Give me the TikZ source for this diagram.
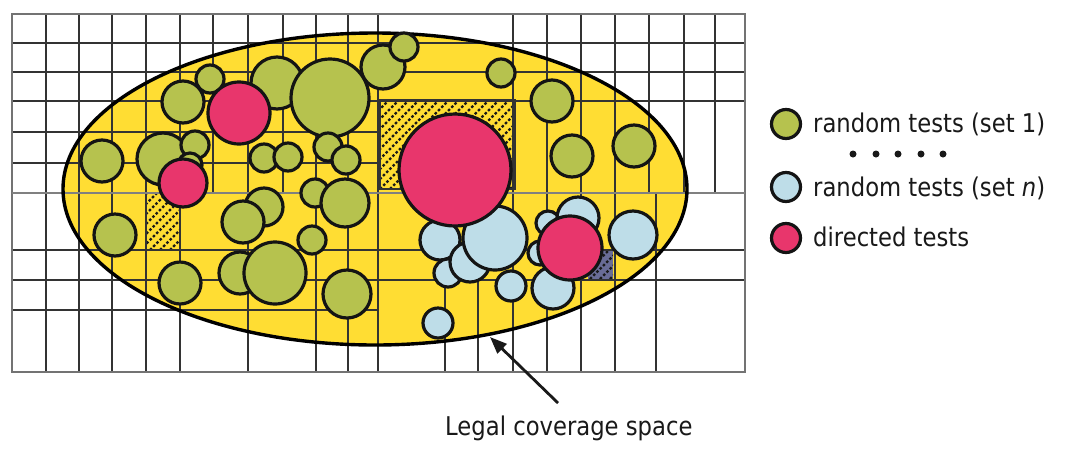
\documentclass[tikz,border=0pt]{standalone}
\usepackage{fontspec}
\setmainfont[FakeStretch=0.88]{DejaVu Sans}
\usetikzlibrary{shapes.geometric,arrows.meta}
\definecolor{cyellow}{RGB}{255,221,51}
\definecolor{cgreen}{RGB}{182,194,78}
\definecolor{cred}{RGB}{232,54,108}
\definecolor{cblue}{RGB}{190,221,232}
\definecolor{cslate}{RGB}{105,108,150}
\begin{document}
\begin{tikzpicture}[x=1pt,y=-1pt,
  gridln/.style={draw=black!80,line width=1.4pt},
  framel/.style={draw=black!55,line width=1.8pt},
  axisl/.style={draw=black!50,line width=2.6pt},
  hatchln/.style={draw=black!90,line width=2.2pt,dash pattern=on 2.6pt off 2pt},
  tc/.style={circle,draw=black!92,line width=3.2pt,inner sep=0pt,minimum size=#1},
  grn/.style={tc=#1,fill=cgreen},
  red/.style={tc=#1,fill=cred},
  blu/.style={tc=#1,fill=cblue},
  dotn/.style={circle,fill=black!90,inner sep=0pt,minimum size=7pt},
  lbl/.style={font=\fontsize{25.8}{30}\selectfont,text=black!90,inner sep=0pt},
  arr/.style={draw=black!90,line width=2.8pt,-{Triangle[length=17pt,width=13pt]}}]
\useasboundingbox (0,0) rectangle (1065,451);
\fill[white] (0,0) rectangle (1065,451);
% legal space fill
\fill[cyellow] (375,189) ellipse [x radius=312pt, y radius=156pt];
% hatched regions
\begin{scope}
  \clip (380,100) rectangle (515,189);
  \foreach \k in {270,280,...,520} \draw[hatchln] (\k,189) -- ++(100,-100);
\end{scope}
\draw[gridln] (380,100) rectangle (515,189);
\begin{scope}
  \clip (146,193) rectangle (180,250);
  \foreach \k in {80,90,...,190} \draw[hatchln] (\k,250) -- ++(70,-70);
\end{scope}
\fill[cslate] (588,250) rectangle (613,279);
\begin{scope}
  \clip (588,250) rectangle (613,279);
  \foreach \k in {540,550,...,620} \draw[hatchln] (\k,279) -- ++(40,-40);
\end{scope}
% grid
\foreach \x in {46,79,112,146,180,213,248,283,316,348,378,513,547,581,615,649,684,715}
  \draw[gridln] (\x,14) -- (\x,193);
\foreach \x in {46,79,112,146,180,248,316,348,378,513,547,581,615,656}
  \draw[gridln] (\x,193) -- (\x,372);
\foreach \x in {445,478}
  \draw[gridln] (\x,280) -- (\x,372);
\foreach \y in {43,72,101,250,280}
  \draw[gridln] (12,\y) -- (745,\y);
\foreach \y in {132,163,310}
  \draw[gridln] (12,\y) -- (378,\y);
\draw[framel] (12,14) rectangle (745,372);
\draw[axisl] (12,193) -- (745,193);
% legal space border
\node[ellipse,draw=black,line width=3.4pt,minimum width=624pt,minimum height=312pt,inner sep=0pt] (space) at (375,189) {};
% random tests set 1
\node[grn=42pt] (g1) at (183,102) {};
\node[grn=28pt] (g2) at (210,79) {};
\node[grn=52pt] (g3) at (277,83) {};
\node[red=62pt] (r1) at (239,113) {};
\node[grn=78pt] (g4) at (330,98) {};
\node[grn=42pt] (g5) at (102,161) {};
\node[grn=52pt] (g6) at (163,159) {};
\node[grn=28pt] (g7) at (195,145) {};
\node[grn=24pt] (g8) at (190,165) {};
\node[red=48pt] (r2) at (183,183) {};
\node[grn=28pt] (g9) at (264,158) {};
\node[grn=28pt] (g10) at (288,157) {};
\node[grn=28pt] (g11) at (328,147) {};
\node[grn=28pt] (g12) at (346,160) {};
\node[grn=44pt] (g13) at (383,67) {};
\node[grn=28pt] (g14) at (404,47) {};
\node[grn=38pt] (g15) at (264,207) {};
\node[grn=42pt] (g16) at (243,222) {};
\node[grn=28pt] (g17) at (315,193) {};
\node[grn=48pt] (g18) at (345,203) {};
\node[grn=28pt] (g19) at (312,240) {};
\node[grn=42pt] (g20) at (115,235) {};
\node[grn=42pt] (g21) at (180,283) {};
\node[grn=42pt] (g22) at (240,273) {};
\node[grn=62pt] (g23) at (275,273) {};
\node[grn=48pt] (g24) at (347,294) {};
\node[grn=28pt] (g25) at (501,73) {};
\node[grn=42pt] (g26) at (552,101) {};
\node[grn=42pt] (g27) at (572,156) {};
\node[grn=42pt] (g28) at (634,146) {};
% random tests set n
\node[blu=40pt] (b1) at (440,240) {};
\node[blu=28pt] (b2) at (448,273) {};
\node[blu=40pt] (b3) at (470,262) {};
\node[blu=64pt] (b4) at (495,238) {};
\node[blu=30pt] (b5) at (511,286) {};
\node[blu=30pt] (b6) at (438,323) {};
\node[blu=24pt] (b7) at (548,223) {};
\node[blu=42pt] (b8) at (578,218) {};
\node[blu=24pt] (b9) at (540,253) {};
\node[blu=42pt] (b10) at (553,288) {};
\node[blu=48pt] (b11) at (633,235) {};
% directed tests
\node[red=112pt] (r3) at (455,170) {};
\node[red=64pt] (r4) at (570,248) {};
% legend
\node[grn=29pt] (lg1) at (786,124) {};
\node[blu=29pt] (lg2) at (786,187) {};
\node[red=29pt] (lg3) at (786,238) {};
\node[lbl,anchor=base west] (t1) at (813,132.5) {random tests (set 1)};
\node[lbl,anchor=base west] (t2) at (813,196.5) {random tests (set \textit{n})};
\node[lbl,anchor=base west] (t3) at (813,246.5) {directed tests};
\foreach \i/\x in {1/853,2/876,3/898,4/921,5/943}
  \node[dotn] (d\i) at (\x,154) {};
% caption with arrow
\node[lbl,anchor=base west] (cap) at (445,435) {Legal coverage space};
\coordinate (tail) at (558,403);
\coordinate (tip) at (490,337);
\draw[arr] (tail) -- (tip);
\end{tikzpicture}
\end{document}
